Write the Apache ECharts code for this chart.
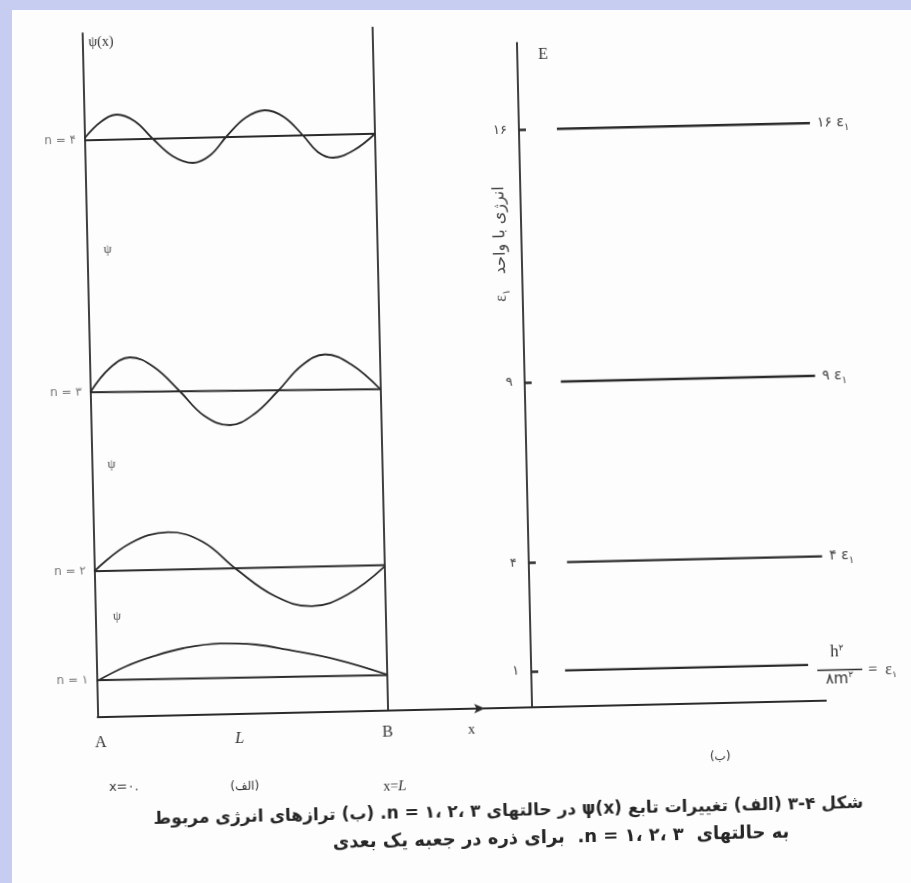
<!DOCTYPE html>
<html>
<head>
<meta charset="utf-8">
<script src="https://cdn.jsdelivr.net/npm/echarts@6/dist/echarts.min.js"></script>
<style>
  html, body { margin: 0; padding: 0; }
  body { width: 911px; height: 883px; background: #c6cdf0; position: relative; overflow: hidden; }
  #page { position: absolute; left: 12px; top: 10px; right: 0; bottom: 0; background: #fdfdfd; }
  /* the scanned page sits slightly turned */
  #chart { position: absolute; left: 0; top: 0; width: 911px; height: 883px; transform: rotate(-1.3deg); }
</style>
</head>
<body>
<div id="page"></div>
<div id="chart"></div>
<script>
const faDigits = '۰۱۲۳۴۵۶۷۸۹'
const toFa = v => String(v).replace(/\d/g, d => faDigits[d])

// (الف) wave functions, x as a fraction of L, y in plot units (baseline + psi)
const stateNames = ['n = ۱', 'n = ۲', 'n = ۳', 'n = ۴']
const baseLeft = [3.7, 14.6, 32.5, 57.7]
const baseRight = [3.55, 14.55, 32.15, 57.7]
const waveX1 = [0, 0.1, 0.196, 0.3, 0.427, 0.55, 0.656, 0.827, 1]
const waveY1 = [3.6, 5.0, 5.96, 6.7, 7.08, 6.9, 6.33, 5.22, 3.6]
const waveX2 = [0, 0.125, 0.257, 0.375, 0.49, 0.62, 0.745, 0.87, 1]
const waveY2 = [14.6, 17.3, 18.33, 17.3, 14.45, 11.7, 10.61, 11.7, 14.44]
const waveX3 = [0, 0.07, 0.139, 0.22, 0.308, 0.39, 0.478, 0.56, 0.646, 0.73, 0.811, 0.9, 1]
const waveY3 = [32.5, 34.9, 35.9, 34.9, 32.4, 29.9, 28.9, 29.9, 32.2, 34.7, 35.75, 34.7, 32.1]
const waveX4 = [0, 0.057, 0.113, 0.174, 0.235, 0.303, 0.371, 0.43, 0.49, 0.556, 0.623, 0.687, 0.752, 0.802, 0.853, 0.926, 1]
const waveY4 = [57.9, 59.5, 60.2, 59.5, 57.7, 55.9, 55.2, 55.9, 57.8, 59.6, 60.3, 59.6, 57.7, 56.0, 55.4, 56.1, 57.7]

// (ب) energy levels in units of e1
const levels = [1, 4, 9, 16]
const levelStart = [0.115, 0.13, 0.123, 0.129]
const levelEnd = [0.942, 0.998, 0.988, 0.99]

const ink = '#2b2b2b'
const serif = "'Liberation Serif', 'DejaVu Sans', serif"
const faFont = "'DejaVu Sans', sans-serif"

const chart = echarts.init(document.getElementById('chart'))

const waves = [[waveX1, waveY1], [waveX2, waveY2], [waveX3, waveY3], [waveX4, waveY4]]
const series = []

waves.forEach(([xs, ys], i) => {
  series.push({
    type: 'line',
    xAxisIndex: 0,
    yAxisIndex: 0,
    symbol: 'none',
    smooth: 0.4,
    silent: true,
    lineStyle: { color: ink, width: 1.8 },
    data: xs.map((x, k) => [x, ys[k]])
  })
  series.push({
    type: 'line',
    xAxisIndex: 0,
    yAxisIndex: 0,
    symbol: 'none',
    silent: true,
    lineStyle: { color: ink, width: 2 },
    data: [[0, baseLeft[i]], [1, baseRight[i]]]
  })
})

// n= labels and the wall at x = L
series.push({
  type: 'scatter',
  xAxisIndex: 0,
  yAxisIndex: 0,
  symbolSize: 1,
  silent: true,
  itemStyle: { color: 'transparent' },
  label: {
    show: true,
    position: 'left',
    distance: 8,
    formatter: p => stateNames[p.dataIndex],
    color: '#555',
    fontSize: 12,
    fontFamily: faFont
  },
  data: baseLeft.map(b => [0, b]),
  markLine: {
    silent: true,
    symbol: 'none',
    label: { show: false },
    lineStyle: { color: ink, width: 1.8, type: 'solid' },
    data: [{ xAxis: 1 }]
  }
})

levels.forEach((e, i) => {
  series.push({
    type: 'line',
    xAxisIndex: 1,
    yAxisIndex: 1,
    symbol: 'none',
    silent: true,
    lineStyle: { color: ink, width: 2.4 },
    data: [[levelStart[i], e], [levelEnd[i], e]],
    endLabel: {
      show: e !== 1,
      distance: 7,
      formatter: () => `{n|${toFa(e)} ε}{s|۱}`,
      rich: {
        n: { fontSize: 14, fontFamily: faFont, color: '#444', lineHeight: 20 },
        s: { fontSize: 10, fontFamily: faFont, color: '#444', lineHeight: 10, verticalAlign: 'bottom' }
      }
    }
  })
})

const txt = (x, y, text, style = {}) => ({
  type: 'text',
  x,
  y,
  silent: true,
  style: Object.assign({
    text,
    fill: '#333',
    fontSize: 15,
    fontFamily: serif,
    align: 'center',
    verticalAlign: 'middle'
  }, style)
})

const graphic = [
  txt(110, 34, 'ψ(x)', { fontSize: 14 }),
  txt(112, 242, 'ψ', { fontSize: 13, fill: '#555' }),
  txt(111, 457, 'ψ', { fontSize: 13, fill: '#555' }),
  txt(113, 609, 'ψ', { fontSize: 13, fill: '#555' }),
  txt(94, 735, 'A', { fontSize: 16 }),
  txt(233, 734, 'L', { fontSize: 16, fontStyle: 'italic' }),
  txt(381, 731, 'B', { fontSize: 16 }),
  txt(465, 730, 'x', { fontSize: 14 }),
  txt(116, 780, 'x=۰.', { fontSize: 13, fontFamily: faFont }),
  txt(237, 782, '(الف)', { fontSize: 12, fontFamily: faFont }),
  txt(387, 785, '{a|x=}{b|L}', {
    rich: {
      a: { fontSize: 14, fontFamily: serif, fill: '#333' },
      b: { fontSize: 15, fontFamily: serif, fontStyle: 'italic', fill: '#333' }
    }
  }),
  txt(713, 763, '(ب)', { fontSize: 12, fontFamily: faFont }),
  txt(552, 57, 'E', { fontSize: 16 }),
  {
    type: 'text',
    x: 505,
    y: 245,
    rotation: Math.PI / 2,
    silent: true,
    style: {
      text: '{e|ε}{s|۱}{t|   انرژی با واحد}',
      align: 'center',
      verticalAlign: 'middle',
      rich: {
        e: { fontSize: 16, fontFamily: serif, fill: '#444', lineHeight: 20 },
        s: { fontSize: 10, fontFamily: faFont, fill: '#444', lineHeight: 10, verticalAlign: 'bottom' },
        t: { fontSize: 16, fontFamily: faFont, fill: '#444', lineHeight: 20 }
      }
    }
  },
  // h^2 / 8m^2 = e1 next to the lowest level
  txt(832, 661, '{a|h}{b|۲}', {
    rich: {
      a: { fontSize: 17, fontFamily: serif, fill: '#333', lineHeight: 18 },
      b: { fontSize: 9, fontFamily: faFont, fill: '#333', lineHeight: 9, verticalAlign: 'top' }
    }
  }),
  {
    type: 'line',
    silent: true,
    shape: { x1: 812, y1: 678.5, x2: 857, y2: 678.5 },
    style: { stroke: ink, lineWidth: 1.4 }
  },
  txt(834, 688, '{a|۸m}{b|۲}', {
    rich: {
      a: { fontSize: 15, fontFamily: faFont, fill: '#333', lineHeight: 18 },
      b: { fontSize: 9, fontFamily: faFont, fill: '#333', lineHeight: 9, verticalAlign: 'top' }
    }
  }),
  txt(863, 680, '{a|=  ε}{b|۱}', {
    align: 'left',
    rich: {
      a: { fontSize: 16, fontFamily: serif, fill: '#333', lineHeight: 18 },
      b: { fontSize: 9, fontFamily: faFont, fill: '#333', lineHeight: 9, verticalAlign: 'bottom' }
    }
  }),
  txt(500, 813, '\u202Bشکل ۴-۳ (الف) تغییرات تابع ψ(x) در حالتهای n = ۱، ۲، ۳. (ب) ترازهای انرژی مربوط\u202C', {
    fontSize: 17, fontWeight: 'bold', fontFamily: faFont, fill: '#262626'
  }),
  txt(552, 840, '\u202Bبه حالتهای  n = ۱، ۲، ۳.  برای ذره در جعبه یک بعدی\u202C', {
    fontSize: 18, fontWeight: 'bold', fontFamily: faFont, fill: '#262626'
  })
]

const option = {
  backgroundColor: 'transparent',
  animation: false,
  grid: [
    { left: 91.5, top: 25, right: 432, bottom: 174 },
    { left: 479, top: 44.3, right: 91, bottom: 174 }
  ],
  xAxis: [
    {
      type: 'value',
      gridIndex: 0,
      min: 0,
      max: 1.334,
      axisLine: { show: true, symbol: ['none', 'arrow'], symbolSize: [7, 11], lineStyle: { color: ink, width: 1.8 } },
      axisTick: { show: false },
      axisLabel: { show: false },
      splitLine: { show: false }
    },
    {
      type: 'value',
      gridIndex: 1,
      min: -0.16,
      max: 1,
      axisLine: { show: true, onZero: false, lineStyle: { color: ink, width: 1.8 } },
      axisTick: { show: false },
      axisLabel: { show: false },
      splitLine: { show: false }
    }
  ],
  yAxis: [
    {
      type: 'value',
      gridIndex: 0,
      min: 0,
      max: 68.4,
      axisLine: { show: true, lineStyle: { color: ink, width: 1.8 } },
      axisTick: { show: false },
      axisLabel: { show: false },
      splitLine: { show: false }
    },
    {
      type: 'value',
      gridIndex: 1,
      min: 0,
      max: 18.41,
      offset: -47,
      axisLine: { show: true, onZero: false, lineStyle: { color: ink, width: 1.8 } },
      axisTick: { show: true, inside: true, length: 7, customValues: levels, lineStyle: { color: ink, width: 2.5 } },
      axisLabel: {
        show: true,
        customValues: levels,
        margin: 12,
        formatter: v => toFa(v),
        color: '#444',
        fontSize: 13,
        fontFamily: faFont
      },
      splitLine: { show: false }
    }
  ],
  series,
  graphic
}

chart.setOption(option)
</script>
</body>
</html>
